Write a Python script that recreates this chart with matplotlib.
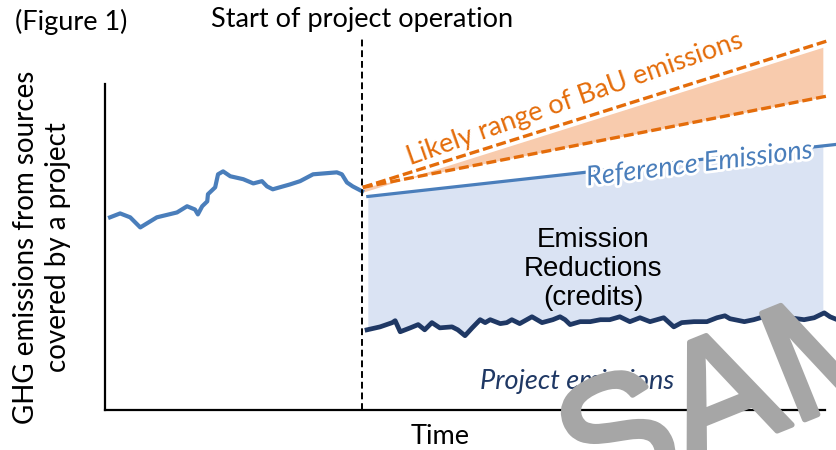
import matplotlib
matplotlib.use("Agg")
import matplotlib.pyplot as plt
import matplotlib.patheffects as pe
import numpy as np

# historical emissions before the project (time, emissions)
hist_t = [0.7, 2.1, 3.5, 4.9, 7.2, 10.0, 11.4, 12.5, 12.9, 13.5, 14.2, 14.3, 15.3, 15.7,
          16.4, 17.4, 19.2, 20.6, 21.8, 22.5, 23.3, 25.7, 27.1, 28.9, 32.2, 32.9, 33.6,
          34.4, 35.7]
hist_e = [59.1, 60.3, 59.1, 56.0, 59.1, 60.6, 62.5, 61.5, 60.0, 62.5, 64.0, 66.2, 68.3, 72.3,
          73.2, 71.7, 70.8, 69.5, 70.2, 68.6, 67.7, 69.2, 70.2, 72.3, 72.9, 72.3, 69.8,
          68.6, 67.1]

start_t = 35.7

# reference emissions (straight line)
ref_t = [36.5, 101.7]
ref_e = [65.5, 81.5]

# likely range of BaU emissions
bau_t = [35.8, 100.3]
bau_hi = [68.3, 113.2]
bau_lo = [68.3, 96.3]
fill_end = 99.7

# project emissions
proj_t = [36.4, 38.2, 39.9, 40.3, 41.0, 42.4, 43.5, 44.4, 45.4, 46.5, 48.2, 49.0, 50.0,
          51.0, 52.1, 52.8, 53.5, 54.9, 55.8, 56.5, 57.6, 59.3, 60.7, 62.2, 63.2, 63.9,
          64.6, 66.0, 67.4, 68.8, 70.1, 71.5, 72.9, 74.3, 75.7, 77.6, 79.0, 80.1, 81.8,
          83.6, 85.0, 86.1, 86.8, 88.8, 90.1, 91.5, 92.2, 93.3, 95.1, 97.1, 98.5, 99.9,
          100.7, 101.7]
proj_e = [24.6, 25.5, 26.8, 27.4, 24.0, 25.2, 26.2, 24.6, 26.8, 25.2, 25.5, 24.6, 22.8,
          25.2, 27.7, 26.8, 27.7, 26.5, 26.8, 27.7, 26.5, 28.6, 26.8, 27.7, 28.6, 27.7,
          26.2, 27.1, 27.1, 27.7, 27.7, 28.6, 27.1, 28.3, 27.1, 28.3, 25.5, 26.8, 27.1,
          27.1, 28.3, 28.9, 28.0, 27.1, 27.7, 28.6, 27.1, 27.7, 28.3, 27.7, 28.3, 29.8,
          28.6, 27.7]

CAL = ["Lato", "DejaVu Sans"]
ORANGE = "#E46C0A"
BLUE = "#4A7EBB"
NAVY = "#1F3864"
GREY = "#A6A6A6"

fig = plt.figure(figsize=(8.37, 4.5), dpi=100)
ax = fig.add_axes([105 / 837, 40 / 450, 720 / 837, 326 / 450])
ax.set_xlim(0, 100)
ax.set_ylim(0, 100)
for s in ["top", "right"]:
    ax.spines[s].set_visible(False)
for s in ["left", "bottom"]:
    ax.spines[s].set_linewidth(1.6)
ax.set_xticks([])
ax.set_yticks([])

# blue area: emission reductions
rt = np.linspace(ref_t[0], fill_end, 200)
ax.fill_between(rt, np.interp(rt, proj_t, proj_e), np.interp(rt, ref_t, ref_e),
                color="#DAE3F3", lw=0, zorder=1)

# orange BaU band
bt = np.linspace(bau_t[0], fill_end, 50)
ax.fill_between(bt, np.interp(bt, bau_t, bau_lo), np.interp(bt, bau_t, bau_hi) - 1.5,
                color="#F8CBAD", lw=0, zorder=1, clip_on=False)
ax.plot(bau_t, bau_hi, color=ORANGE, lw=2.4, ls=(0, (3, 1.2)), clip_on=False, zorder=3)
ax.plot(bau_t, bau_lo, color=ORANGE, lw=2.4, ls=(0, (3, 1.2)), clip_on=False, zorder=3)

ax.plot(ref_t, ref_e, color=BLUE, lw=2.3, clip_on=False, zorder=3)
ax.plot(hist_t, hist_e, color=BLUE, lw=3.0, clip_on=False, zorder=3)
ax.plot(proj_t, proj_e, color=NAVY, lw=3.4, clip_on=False, zorder=3)

ax.plot([start_t, start_t], [0, 114.5], color="black", lw=1.4, ls=(0, (3.5, 2)),
        clip_on=False, zorder=4)

# in-plot labels
ax.text(65.3, 95.4, "Likely range of BaU emissions", color=ORANGE, fontsize=19.5,
        family=CAL, rotation=19.5, ha="center", va="center", rotation_mode="anchor")
ax.text(82.6, 75.4, "Reference Emissions", color=BLUE, fontsize=19.5, style="italic",
        family=CAL, rotation=7, ha="center", va="center", rotation_mode="anchor",
        path_effects=[pe.withStroke(linewidth=4, foreground="white")], zorder=5)
ax.text(67.8, 43.1, "Emission\nReductions\n(credits)", color="black", fontsize=20,
        family="Liberation Sans", ha="center", va="center", linespacing=1.15, zorder=5)
ax.text(65.6, 8.6, "Project emissions", color=NAVY, fontsize=19.5, style="italic",
        family=CAL, ha="center", va="center")

fig.text(15 / 837, 1 - 22 / 450, "(Figure 1)", fontsize=19.5, family=CAL,
         ha="left", va="center")
fig.text(362 / 837, 1 - 20 / 450, "Start of project operation", fontsize=19.5, family=CAL,
         ha="center", va="center")
fig.text(440 / 837, 1 - 437 / 450, "Time", fontsize=19.5, family=CAL,
         ha="center", va="center")
fig.text(42 / 837, 1 - 247 / 450, "GHG emissions from sources\ncovered by a project",
         fontsize=20, family=CAL, rotation=90, ha="center", va="center",
         linespacing=1.3)

# watermark
fig.text(586 / 837, -58 / 450, "SAMPLE", fontsize=120, color=GREY,
         family="Liberation Sans", rotation=22, ha="left", va="baseline",
         rotation_mode="anchor", zorder=10,
         path_effects=[pe.withStroke(linewidth=4, foreground=GREY)])

fig.savefig("out.png", dpi=100)
